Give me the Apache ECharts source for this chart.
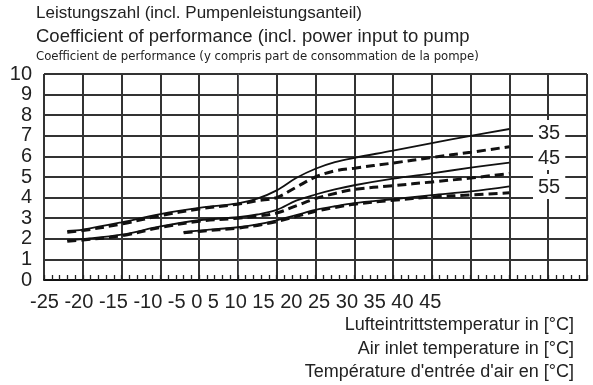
<!DOCTYPE html>
<html>
<head>
<meta charset="utf-8">
<script src="https://cdn.jsdelivr.net/npm/echarts@6/dist/echarts.min.js"></script>
<style>
  html, body { margin: 0; padding: 0; background: #fff; }
  #main { width: 593px; height: 385px; }
</style>
</head>
<body>
<div id="main"></div>
<script>
var chartDom = document.getElementById('main');
var myChart = echarts.init(chartDom);
var option;

// air inlet temperature [°C]
var temps = [-22, -20, -15, -10, -5, 0, 2.5, 5, 7.5, 10, 12.5, 15, 20, 25, 30, 35];
var temps55 = [-7, -5, 0, 2.5, 5, 7.5, 10, 12.5, 15, 20, 25, 30, 35];

// COP values (solid / dashed per flow temperature)
var cop35 = [2.38, 2.45, 2.8, 3.2, 3.5, 3.72, 3.95, 4.35, 4.95, 5.4, 5.72, 5.93, 6.28, 6.65, 7.0, 7.33];
var cop35b = [2.32, 2.4, 2.72, 3.12, 3.45, 3.68, 3.85, 4.0, 4.5, 5.0, 5.3, 5.43, 5.68, 5.95, 6.2, 6.47];
var cop45 = [1.92, 1.98, 2.2, 2.6, 2.9, 3.05, 3.18, 3.4, 3.85, 4.15, 4.4, 4.6, 4.92, 5.18, 5.45, 5.7];
var cop45b = [1.88, 1.94, 2.15, 2.55, 2.85, 3.0, 3.1, 3.25, 3.6, 3.95, 4.2, 4.4, 4.58, 4.76, 4.95, 5.17];
var cop55 = [2.33, 2.4, 2.56, 2.7, 2.9, 3.15, 3.4, 3.58, 3.73, 3.92, 4.12, 4.3, 4.55];
var cop55b = [2.29, 2.36, 2.52, 2.65, 2.84, 3.08, 3.33, 3.52, 3.68, 3.87, 4.03, 4.13, 4.23];

var xTickLabels = ['-25', '-20', '-15', '-10', '-5', '0', '5', '10', '15', '20', '25', '30', '35', '40', '45'];
var curveNames = ['35', '45', '55'];

function pairs(xs, ys) {
  return xs.map(function (x, i) {
    return [x, ys[i]];
  });
}

function curve(name, xs, ys, dashed) {
  return {
    name: name,
    type: 'line',
    data: pairs(xs, ys),
    smooth: 0.35,
    showSymbol: false,
    lineStyle: dashed
      ? { color: '#111', width: 3, type: [9, 5] }
      : { color: '#111', width: 1.8 }
  };
}

var font = 'Liberation Sans, Arial, sans-serif';
var labelBox = { backgroundColor: '#fff', padding: [3, 5, 2, 5] };

option = {
  animation: false,
  grid: {
    left: 44,
    right: 6,
    top: 74,
    bottom: 105
  },
  xAxis: [
    {
      type: 'value',
      min: -25,
      max: 45,
      interval: 5,
      axisLine: { lineStyle: { color: '#111', width: 2 } },
      axisTick: { show: false },
      axisLabel: { show: false },
      splitLine: { show: true, lineStyle: { color: '#333', width: 2 } }
    },
    {
      // small 1 °C ticks
      type: 'value',
      position: 'bottom',
      min: -25,
      max: 45,
      interval: 1,
      axisLine: { show: false },
      axisTick: { show: true, inside: true, length: 5, lineStyle: { color: '#222', width: 1.3 } },
      axisLabel: { show: false },
      splitLine: { show: false }
    }
  ],
  yAxis: {
    type: 'value',
    min: 0,
    max: 10,
    interval: 1,
    axisTick: { show: false },
    axisLabel: { fontSize: 20, color: '#222', margin: 12, fontFamily: font },
    splitLine: { show: true, lineStyle: { color: '#333', width: 2 } }
  },
  series: [
    curve('35', temps, cop35, false),
    curve('35', temps, cop35b, true),
    curve('45', temps, cop45, false),
    curve('45', temps, cop45b, true),
    curve('55', temps55, cop55, false),
    curve('55', temps55, cop55b, true)
  ],
  graphic: [
    { type: 'text', left: 36, top: 5, style: { text: 'Leistungszahl (incl. Pumpenleistungsanteil)', fontSize: 17, fill: '#222', fontFamily: font } },
    { type: 'text', left: 36, top: 27, style: { text: 'Coefficient of performance (incl. power input to pump', fontSize: 18.5, fill: '#222', fontFamily: font } },
    { type: 'text', left: 36, top: 50, style: { text: 'Coefficient de performance (y compris part de consommation de la pompe)', fontSize: 13, fill: '#222', fontFamily: 'Liberation Sans Narrow, Arial Narrow, DejaVu Sans Condensed, sans-serif' } },
    { type: 'text', left: 30, top: 292, style: { text: xTickLabels.join(' '), fontSize: 20, fill: '#222', fontFamily: font } },
    { type: 'text', right: 19, top: 316, style: { text: 'Lufteintrittstemperatur in [°C]', fontSize: 18, fill: '#222', fontFamily: font } },
    { type: 'text', right: 19, top: 340, style: { text: 'Air inlet temperature in [°C]', fontSize: 18, fill: '#222', fontFamily: font } },
    { type: 'text', right: 19, top: 363, style: { text: "Température d'entrée d'air en [°C]", fontSize: 18, fill: '#222', fontFamily: font } },
    { type: 'text', z: 11, left: 533, top: 120, style: Object.assign({ text: curveNames[0], fontSize: 20, fill: '#222', fontFamily: font }, labelBox) },
    { type: 'text', z: 11, left: 533, top: 145, style: Object.assign({ text: curveNames[1], fontSize: 20, fill: '#222', fontFamily: font }, labelBox) },
    { type: 'text', z: 11, left: 533, top: 174, style: Object.assign({ text: curveNames[2], fontSize: 20, fill: '#222', fontFamily: font }, labelBox) }
  ]
};

option && myChart.setOption(option);
</script>
</body>
</html>
